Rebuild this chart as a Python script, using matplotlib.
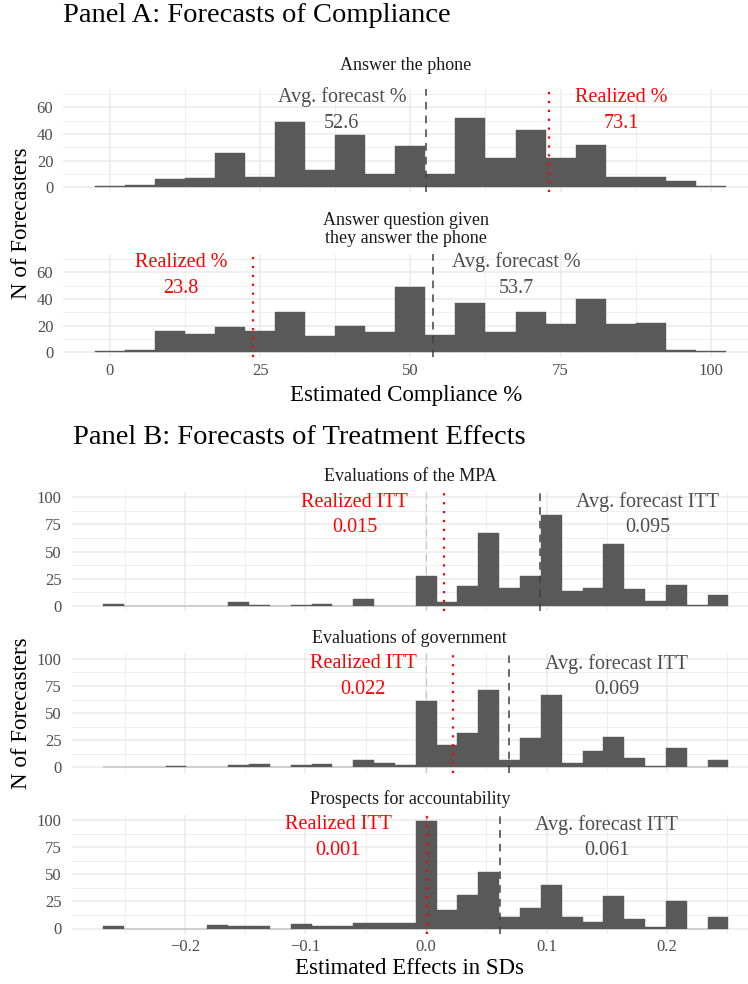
import matplotlib.pyplot as plt
import numpy as np

plt.rcParams['font.family'] = 'Liberation Serif'

W, H = 748, 984

# ---- Panel A: forecasts of compliance (bins of width 5) ----
compliance_bins = np.arange(0, 101, 5)
phone_counts = [1, 2, 6, 7, 26, 8, 49, 13, 39, 10, 31, 10, 52, 22, 43, 22, 32, 8, 8, 5, 1]
question_counts = [1, 2, 16, 14, 19, 16, 30, 12, 20, 15, 49, 13, 37, 15, 30, 21, 40, 21, 22, 2, 1]
compliance_avg = [52.6, 53.7]
compliance_real = [73.1, 23.8]
compliance_titles = ["Answer the phone", "Answer question given\nthey answer the phone"]

# ---- Panel B: forecasts of treatment effects (30 bins) ----
effect_edges = np.linspace(-0.268, 0.251, 31)
mpa_counts = [2, 0, 0, 0, 0, 0, 3, 1, 0, 1, 2, 0, 6, 0, 0, 27, 3, 18, 67, 16, 27, 84, 14, 16, 57, 15, 4, 19, 1, 10]
gov_counts = [0, 0, 0, 1, 0, 0, 2, 3, 0, 2, 3, 0, 7, 4, 2, 61, 21, 32, 71, 7, 27, 67, 4, 15, 28, 9, 1, 18, 0, 7]
acc_counts = [2, 0, 0, 0, 0, 3, 2, 2, 0, 4, 2, 2, 5, 5, 5, 99, 17, 31, 52, 11, 19, 40, 11, 6, 30, 9, 1, 25, 0, 11]
effect_avg = [0.095, 0.069, 0.061]
effect_real = [0.015, 0.022, 0.001]
effect_titles = ["Evaluations of the MPA", "Evaluations of government", "Prospects for accountability"]

BAR = '#595959'
GRID = '#EBEBEB'
TXT = '#4D4D4D'


def px_axes(fig, left, right, top, bottom):
    return fig.add_axes([left / W, 1 - bottom / H, (right - left) / W, (bottom - top) / H])


def style(ax):
    for s in ax.spines.values():
        s.set_visible(False)
    ax.grid(which='major', color=GRID, lw=1.1, zorder=0)
    ax.grid(which='minor', color=GRID, lw=0.55, zorder=0)
    ax.set_axisbelow(True)
    ax.tick_params(which='both', length=0, labelsize=12, labelcolor=TXT)
    ax.tick_params(axis='y', pad=7.2)
    ax.tick_params(axis='x', pad=4)


def label_pair(ax, x, y1, y2, head, val, color):
    ax.text(x, y1, head, ha='center', va='center', fontsize=14.5, color=color)
    ax.text(x, y2, val, ha='center', va='center', fontsize=14.5, color=color)


fig = plt.figure(figsize=(W / 100, H / 100), dpi=100)

# Panel A
fig.text(63 / W, 1 - 15 / H, "Panel A: Forecasts of Compliance", fontsize=20.5, va='center', ha='left')
a_zero = [187.3, 352.3]
a_strip = [65, 229.5]
a_counts = [phone_counts, question_counts]
for i in range(2):
    top = a_zero[i] - 73.5 * 1.3333
    bot = a_zero[i] + 3.5 * 1.3333
    ax = px_axes(fig, 63.3, 748, top, bot)
    style(ax)
    ax.bar(compliance_bins, a_counts[i], width=5, color=BAR, edgecolor=BAR, lw=0.3, zorder=2)
    ax.axvline(compliance_avg[i], color='#404040', lw=1.1, ls=(0, (5, 4)), zorder=3)
    ax.axvline(compliance_real[i], color='red', lw=1.6, ls=(0, (1, 3)), zorder=3)
    if compliance_avg[i] < compliance_real[i]:
        ax_x, re_x = compliance_avg[i] - 14, compliance_real[i] + 12
    else:
        ax_x, re_x = compliance_avg[i] + 14, compliance_real[i] - 12
    label_pair(ax, ax_x, 67.5, 48, "Avg. forecast %", f"{compliance_avg[i]:.1f}", TXT)
    label_pair(ax, re_x, 67.5, 48, "Realized %", f"{compliance_real[i]:.1f}", 'red')
    ax.set_xlim(-7.77, 106.2)
    ax.set_ylim(-3.5, 73.5)
    ax.set_xticks([0, 25, 50, 75, 100])
    ax.set_xticks([12.5, 37.5, 62.5, 87.5], minor=True)
    ax.set_yticks([0, 20, 40, 60])
    ax.set_yticks([10, 30, 50, 70], minor=True)
    if i == 0:
        ax.set_xticklabels([])
    fig.text((63.3 + 748) / 2 / W, 1 - a_strip[i] / H, compliance_titles[i], fontsize=13,
             color='#1A1A1A', ha='center', va='center', linespacing=1.05)

fig.text((63.3 + 748) / 2 / W, 1 - 395 / H, "Estimated Compliance %", fontsize=16.5, ha='center', va='center')
fig.text(22 / W, 1 - 223 / H, "N of Forecasters", fontsize=16.5, rotation=90, ha='center', va='center')

# Panel B
fig.text(73 / W, 1 - 438 / H, "Panel B: Forecasts of Treatment Effects", fontsize=20.5, va='center', ha='left')
b_zero = [605.7, 767.3, 928.5]
b_strip = [476.7, 638.3, 799.3]
b_counts = [mpa_counts, gov_counts, acc_counts]
centers = (effect_edges[:-1] + effect_edges[1:]) / 2
bw = effect_edges[1] - effect_edges[0]
for i in range(3):
    top = b_zero[i] - 105 * 1.084
    bot = b_zero[i] + 5 * 1.084
    ax = px_axes(fig, 71.7, 748, top, bot)
    style(ax)
    ax.axvline(0, color='#C8C8C8', lw=0.9, ls=(0, (6, 4)), zorder=1)
    ax.bar(centers, b_counts[i], width=bw, color=BAR, edgecolor=BAR, lw=0.3, zorder=2)
    ax.axvline(effect_avg[i], color='#404040', lw=1.1, ls=(0, (5, 4)), zorder=3)
    ax.axvline(effect_real[i], color='red', lw=1.6, ls=(0, (1, 3)), zorder=3)
    label_pair(ax, effect_avg[i] + 0.089, 95.5, 72, "Avg. forecast ITT", f"{effect_avg[i]:.3f}", TXT)
    label_pair(ax, effect_real[i] - 0.074, 95.5, 72, "Realized ITT", f"{effect_real[i]:.3f}", 'red')
    ax.set_xlim(-0.294, 0.2672)
    ax.set_ylim(-5, 105)
    ax.set_xticks([-0.2, -0.1, 0.0, 0.1, 0.2])
    ax.set_xticklabels(['\u22120.2', '\u22120.1', '0.0', '0.1', '0.2'])
    ax.set_xticks([-0.25, -0.15, -0.05, 0.05, 0.15, 0.25], minor=True)
    ax.set_yticks([0, 25, 50, 75, 100])
    ax.set_yticks([12.5, 37.5, 62.5, 87.5], minor=True)
    if i < 2:
        ax.set_xticklabels([])
    fig.text((71.7 + 748) / 2 / W, 1 - b_strip[i] / H, effect_titles[i], fontsize=13,
             color='#1A1A1A', ha='center', va='center')

fig.text((71.7 + 748) / 2 / W, 1 - 968 / H, "Estimated Effects in SDs", fontsize=16.5, ha='center', va='center')
fig.text(22 / W, 1 - 713 / H, "N of Forecasters", fontsize=16.5, rotation=90, ha='center', va='center')

fig.savefig('out.png', dpi=100)
